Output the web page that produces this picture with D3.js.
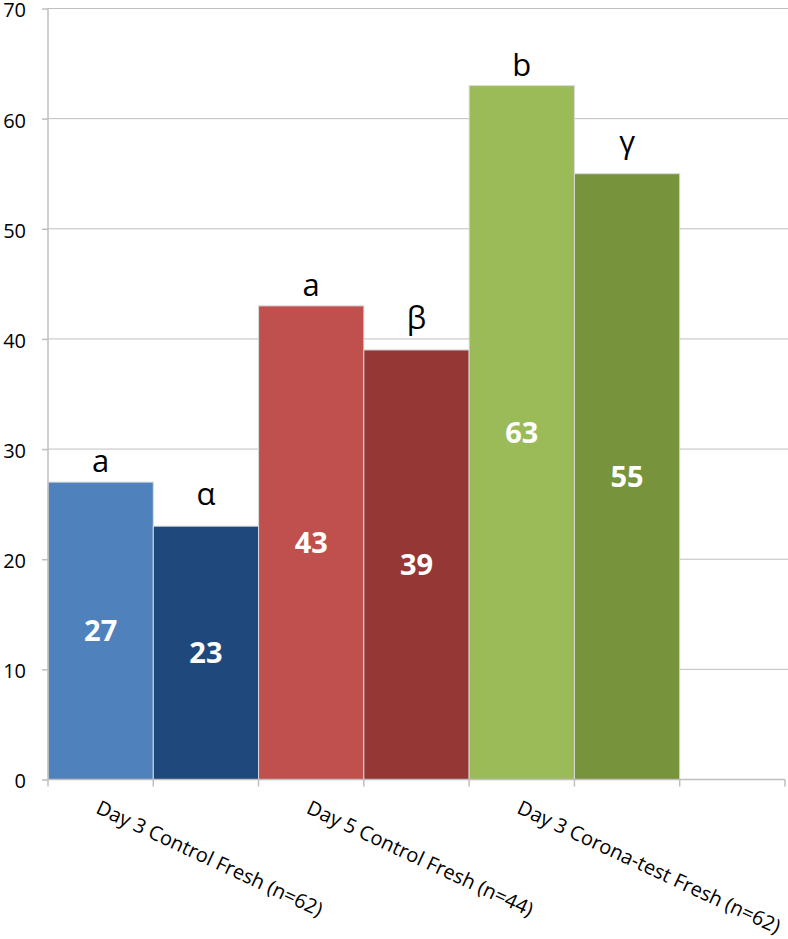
<!DOCTYPE html>
<html>
<head>
<meta charset="utf-8">
<script src="https://cdn.jsdelivr.net/npm/d3@7"></script>
<style>
  body { margin: 0; background: #fff; }
  svg { display: block; font-family: "Open Sans", sans-serif; }
</style>
</head>
<body>
<svg id="drawing_region"></svg>
<script>
// data
const slots = ["s1", "s2", "s3", "s4", "s5", "s6", "s7"];
const categoryLabels = ["Day 3 Control Fresh (n=62)", "", "Day 5 Control Fresh (n=44)", "", "Day 3 Corona-test Fresh (n=62)", "", ""];
const values = [27, 23, 43, 39, 63, 55];
const letters = ["a", "α", "a", "β", "b", "γ"];
const colors = ["#4f81bd", "#1f497d", "#c0504d", "#953735", "#9bbb59", "#77933c"];
const yTicks = [0, 10, 20, 30, 40, 50, 60, 70];

const width = 788, height = 939;
const margin = {top: 8.5, right: 3, bottom: 159.5, left: 48};
const innerW = width - margin.left - margin.right;
const innerH = height - margin.top - margin.bottom;

const svg = d3.select("#drawing_region")
    .attr("width", width)
    .attr("height", height);

const chart = svg.append("g")
    .attr("transform", `translate(${margin.left}, ${margin.top})`);

const xscale = d3.scaleBand().domain(slots).range([0, innerW]).padding(0);
const yscale = d3.scaleLinear().domain([0, 70]).range([innerH, 0]);

// gridlines
chart.append("g")
    .selectAll("line")
    .data(yTicks.filter(d => d > 0))
    .join("line")
    .attr("x1", 0)
    .attr("x2", innerW + 3)
    .attr("y1", d => yscale(d))
    .attr("y2", d => yscale(d))
    .attr("stroke", "#bfbfbf")
    .attr("stroke-width", 1);

// bars
const bars = values.map((v, i) => ({slot: slots[i], value: v, letter: letters[i], color: colors[i], i: i}));

chart.selectAll("rect.bar")
    .data(bars)
    .join("rect")
    .attr("class", "bar")
    .attr("x", d => xscale(d.slot))
    .attr("y", d => yscale(d.value))
    .attr("width", xscale.bandwidth())
    .attr("height", d => innerH - yscale(d.value))
    .attr("fill", d => d.color)
    .attr("stroke", "#d9d9d9")
    .attr("stroke-width", 1);

// values inside the bars
chart.selectAll("text.val")
    .data(bars)
    .join("text")
    .attr("class", "val")
    .attr("x", d => xscale(d.slot) + xscale.bandwidth() / 2)
    .attr("y", d => yscale(d.value / 2))
    .attr("dy", "0.36em")
    .attr("text-anchor", "middle")
    .attr("fill", "#fff")
    .attr("font-weight", "bold")
    .attr("font-size", 29)
    .text(d => d.value);

// significance letters above the bars
chart.selectAll("text.letter")
    .data(bars)
    .join("text")
    .attr("class", "letter")
    .attr("x", d => xscale(d.slot) + xscale.bandwidth() / 2)
    .attr("y", d => yscale(d.value) - (d.i % 2 ? 21 : 10))
    .attr("text-anchor", "middle")
    .attr("fill", "#000")
    .attr("font-size", 31)
    .text(d => d.letter);

// y axis
const yaxis = d3.axisLeft(yscale)
    .tickValues(yTicks)
    .tickSize(6)
    .tickPadding(16);

const yaxis_group = chart.append("g").call(yaxis);
yaxis_group.select(".domain").attr("stroke", "#bfbfbf").attr("stroke-width", 1.5).attr("d", `M0,0V${innerH}`);
yaxis_group.selectAll(".tick line").attr("stroke", "#bfbfbf").attr("stroke-width", 1.5);
yaxis_group.selectAll(".tick text")
    .attr("font-family", "Open Sans, sans-serif")
    .attr("font-size", 20)
    .attr("dy", "0.42em")
    .attr("fill", "#000");

// x axis (ticks on slot edges)
const xaxis_group = chart.append("g")
    .attr("transform", `translate(0, ${innerH})`);

xaxis_group.append("line")
    .attr("x1", 0).attr("x2", innerW)
    .attr("stroke", "#bfbfbf").attr("stroke-width", 1.5);

xaxis_group.selectAll("line.tk")
    .data(slots.concat(["end"]))
    .join("line")
    .attr("class", "tk")
    .attr("x1", d => d === "end" ? innerW : xscale(d))
    .attr("x2", d => d === "end" ? innerW : xscale(d))
    .attr("y1", 0).attr("y2", 7)
    .attr("stroke", "#bfbfbf").attr("stroke-width", 1.5);

xaxis_group.selectAll("text.cat")
    .data(slots.map((s, i) => ({slot: s, label: categoryLabels[i]})).filter(d => d.label))
    .join("text")
    .attr("class", "cat")
    .attr("transform", d => `translate(${xscale(d.slot) + xscale.bandwidth() / 2 - 6}, 33) rotate(25)`)
    .attr("font-size", 20)
    .attr("fill", "#000")
    .text(d => d.label);
</script>
</body>
</html>
